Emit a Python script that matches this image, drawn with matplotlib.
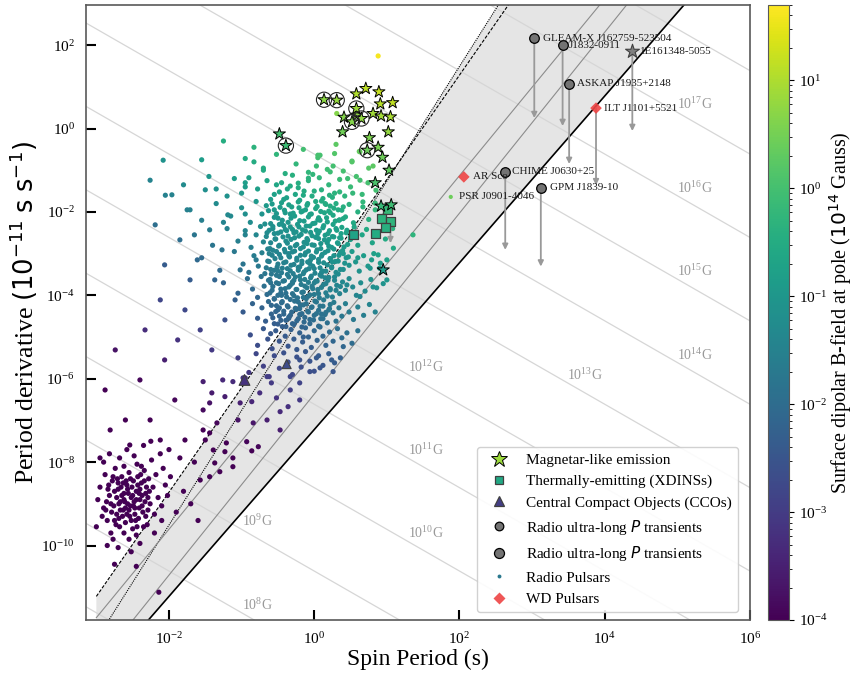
import numpy as np
import matplotlib
matplotlib.use("Agg")
import matplotlib.pyplot as plt
from matplotlib.colors import LogNorm
from matplotlib.cm import ScalarMappable
from matplotlib.lines import Line2D
from matplotlib.ticker import FixedLocator, NullLocator

plt.rcParams["font.family"] = "serif"
plt.rcParams["font.serif"] = ["Times New Roman", "Liberation Serif", "DejaVu Serif"]
plt.rcParams["mathtext.fontset"] = "dejavusans"

# all positions as (log10 P [s], log10 Pdot [1e-11 s/s])
PSR_NORMAL = [
    (-0.83, -0.45), (-0.52, -0.62), (0.30, -0.38), (0.05, -0.70), (-0.25, -0.85), (0.52, -0.78), (0.62, -0.55),
    (-0.70, -0.95), (0.18, -0.98), (-0.08, -1.05), (0.40, -1.02), (-0.40, -1.08), (0.75, -0.95), (-0.95, -0.72),
    (0.28, -0.60), (-0.15, -0.50), (-1.25, -0.30), (-1.55, -0.75), (-1.10, -1.20), (-1.80, -1.35), (-2.05, -1.60),
    (-1.35, -1.45), (-0.95, -1.30), (0.88, 1.74),
    (-1.45, -1.15), (-1.20, -1.62), (-0.90, -1.18), (-0.78, -1.45), (-0.65, -1.25), (-0.55, -1.58), (-0.45, -1.30),
    (-0.38, -1.66), (-0.30, -1.12), (-0.22, -1.42), (-0.15, -1.60), (-0.08, -1.25), (0.00, -1.50), (0.07, -1.18),
    (0.12, -1.68), (0.20, -1.35), (0.28, -1.55), (0.35, -1.22), (0.42, -1.62), (0.50, -1.40), (0.58, -1.15),
    (0.66, -1.58), (0.74, -1.30), (0.85, -1.48), (-0.60, -1.70), (-0.33, -1.38), (-0.02, -1.10), (0.25, -1.65),
    (-1.00, -1.55), (0.46, -1.20),
    (-1.75, -1.95), (-1.55, -2.20), (-1.35, -1.80), (-1.15, -2.10), (-1.00, -1.90), (-0.88, -2.25), (-0.80, -1.75),
    (-0.72, -2.05), (-0.66, -1.85), (-0.60, -2.28), (-0.55, -1.95), (-0.50, -2.15), (-0.45, -1.78), (-0.40, -2.02),
    (-0.36, -2.25), (-0.31, -1.88), (-0.27, -2.10), (-0.22, -1.76), (-0.18, -2.00), (-0.14, -2.22), (-0.10, -1.84),
    (-0.06, -2.06), (-0.02, -2.28), (0.02, -1.92), (0.06, -2.14), (0.10, -1.74), (0.14, -2.02), (0.18, -2.24),
    (0.22, -1.86), (0.26, -2.08), (0.30, -1.80), (0.34, -2.20), (0.38, -1.96), (0.43, -2.12), (0.48, -1.82),
    (0.54, -2.26), (0.60, -2.00), (0.67, -1.88), (0.75, -2.18), (0.84, -1.95), (0.95, -2.10), (-0.95, -2.05),
    (-1.25, -2.25), (-0.48, -2.30), (-0.12, -1.95), (0.20, -1.98), (0.08, -2.20), (-0.33, -2.05),
    (-1.65, -2.55), (-1.40, -2.80), (-1.20, -2.40), (-1.05, -2.70), (-0.95, -2.45), (-0.87, -2.85), (-0.80, -2.55),
    (-0.74, -2.35), (-0.70, -2.72), (-0.65, -2.50), (-0.61, -2.88), (-0.57, -2.40), (-0.53, -2.65), (-0.49, -2.82),
    (-0.46, -2.48), (-0.42, -2.33), (-0.39, -2.70), (-0.36, -2.58), (-0.33, -2.86), (-0.30, -2.42), (-0.27, -2.62),
    (-0.24, -2.78), (-0.21, -2.36), (-0.18, -2.54), (-0.15, -2.84), (-0.12, -2.46), (-0.09, -2.68), (-0.06, -2.34),
    (-0.03, -2.57), (0.00, -2.80), (0.03, -2.44), (0.06, -2.64), (0.09, -2.88), (0.12, -2.38), (0.15, -2.56),
    (0.18, -2.74), (0.21, -2.45), (0.24, -2.85), (0.27, -2.60), (0.30, -2.40), (0.33, -2.76), (0.37, -2.52),
    (0.41, -2.84), (0.45, -2.44), (0.50, -2.66), (0.55, -2.36), (0.60, -2.80), (0.66, -2.55), (0.72, -2.42),
    (0.80, -2.74), (0.88, -2.50), (0.98, -2.65), (1.08, -2.40), (-0.55, -2.52), (-0.25, -2.48), (0.05, -2.52),
    (0.35, -2.62), (-0.10, -2.76), (0.20, -2.66), (-0.40, -2.42),
    (-1.55, -3.10), (-1.30, -3.40), (-1.10, -2.95), (-0.98, -3.25), (-0.90, -3.45), (-0.83, -3.05), (-0.77, -3.30),
    (-0.72, -2.98), (-0.68, -3.48), (-0.64, -3.18), (-0.60, -3.38), (-0.57, -2.92), (-0.54, -3.12), (-0.51, -3.32),
    (-0.48, -3.02), (-0.45, -3.46), (-0.42, -3.22), (-0.40, -2.96), (-0.37, -3.36), (-0.34, -3.08), (-0.32, -3.28),
    (-0.29, -3.48), (-0.27, -2.94), (-0.24, -3.16), (-0.22, -3.40), (-0.19, -3.04), (-0.17, -3.24), (-0.14, -3.44),
    (-0.12, -2.98), (-0.09, -3.20), (-0.07, -3.36), (-0.04, -3.06), (-0.02, -3.30), (0.01, -3.47), (0.03, -2.96),
    (0.06, -3.14), (0.08, -3.34), (0.11, -3.02), (0.13, -3.22), (0.16, -3.42), (0.19, -2.93), (0.22, -3.12),
    (0.24, -3.32), (0.27, -3.05), (0.30, -3.45), (0.33, -3.18), (0.36, -2.97), (0.40, -3.38), (0.44, -3.10),
    (0.48, -3.28), (0.52, -2.95), (0.57, -3.20), (0.62, -3.42), (0.68, -3.05), (0.74, -3.30), (0.82, -3.00),
    (0.90, -3.35), (1.00, -3.15), (-0.62, -3.00), (-0.35, -3.00), (-0.05, -3.15), (0.25, -3.20), (-0.20, -3.32),
    (0.10, -3.45), (-0.50, -3.42), (0.40, -3.00), (-0.80, -3.15), (0.60, -3.10),
    (-1.25, -3.70), (-1.05, -3.95), (-0.92, -3.60), (-0.85, -3.85), (-0.78, -4.05), (-0.73, -3.55), (-0.69, -3.78),
    (-0.65, -3.98), (-0.61, -3.62), (-0.58, -3.88), (-0.55, -4.08), (-0.52, -3.52), (-0.49, -3.72), (-0.46, -3.94),
    (-0.43, -3.66), (-0.40, -3.84), (-0.38, -4.04), (-0.35, -3.56), (-0.33, -3.76), (-0.30, -3.96), (-0.28, -3.64),
    (-0.25, -3.86), (-0.23, -4.06), (-0.20, -3.54), (-0.18, -3.74), (-0.15, -3.92), (-0.13, -3.62), (-0.10, -3.82),
    (-0.08, -4.02), (-0.05, -3.58), (-0.03, -3.78), (0.00, -3.98), (0.02, -3.66), (0.05, -3.86), (0.07, -4.06),
    (0.10, -3.54), (0.13, -3.74), (0.16, -3.94), (0.19, -3.64), (0.22, -3.84), (0.25, -4.04), (0.28, -3.56),
    (0.31, -3.76), (0.35, -3.96), (0.39, -3.68), (0.43, -3.88), (0.48, -3.60), (0.53, -3.80), (0.58, -4.00),
    (0.64, -3.70), (0.70, -3.90), (0.78, -3.62), (0.86, -3.82), (0.95, -3.72), (-0.60, -3.70), (-0.30, -3.68),
    (0.00, -3.70), (0.30, -3.88), (-0.15, -4.05), (0.15, -3.58), (-0.45, -4.00), (0.45, -3.75),
    (-0.98, -4.40), (-0.85, -4.20), (-0.78, -4.55), (-0.72, -4.30), (-0.67, -4.62), (-0.63, -4.15), (-0.59, -4.45),
    (-0.55, -4.68), (-0.52, -4.25), (-0.48, -4.50), (-0.45, -4.18), (-0.42, -4.38), (-0.39, -4.60), (-0.36, -4.28),
    (-0.33, -4.48), (-0.30, -4.68), (-0.27, -4.14), (-0.25, -4.34), (-0.22, -4.56), (-0.19, -4.24), (-0.17, -4.44),
    (-0.14, -4.64), (-0.11, -4.20), (-0.08, -4.40), (-0.06, -4.58), (-0.03, -4.28), (0.00, -4.48), (0.03, -4.16),
    (0.06, -4.36), (0.09, -4.56), (0.12, -4.26), (0.15, -4.46), (0.18, -4.66), (0.22, -4.22), (0.26, -4.42),
    (0.30, -4.62), (0.34, -4.30), (0.38, -4.50), (0.43, -4.20), (0.48, -4.40), (0.54, -4.58), (0.60, -4.28),
    (0.68, -4.48), (0.76, -4.22), (0.84, -4.40), (-0.50, -4.35), (-0.20, -4.32), (0.10, -4.45), (-0.35, -4.52),
    (0.20, -4.35),
    (-0.88, -4.95), (-0.78, -5.20), (-0.70, -4.80), (-0.64, -5.05), (-0.58, -5.28), (-0.53, -4.85), (-0.48, -5.10),
    (-0.44, -4.75), (-0.40, -4.98), (-0.36, -5.22), (-0.32, -4.82), (-0.28, -5.05), (-0.24, -5.30), (-0.20, -4.90),
    (-0.16, -5.12), (-0.12, -4.78), (-0.08, -5.00), (-0.04, -5.25), (0.00, -4.85), (0.04, -5.08), (0.08, -4.76),
    (0.12, -4.98), (0.16, -5.20), (0.21, -4.88), (0.26, -5.10), (0.32, -4.80), (0.38, -5.02), (0.45, -4.90),
    (0.52, -5.15), (0.60, -4.85), (-0.60, -4.92), (-0.15, -5.00),
    (-1.05, -5.50), (-0.90, -5.85), (-0.80, -5.40), (-0.70, -5.70), (-0.62, -5.95), (-0.55, -5.45), (-0.48, -5.75),
    (-0.42, -5.38), (-0.36, -5.60), (-0.30, -5.90), (-0.24, -5.48), (-0.18, -5.72), (-0.12, -5.35), (-0.06, -5.58),
    (0.00, -5.82), (0.06, -5.45), (0.12, -5.68), (0.20, -5.40), (0.28, -5.62), (0.36, -5.50), (-0.95, -5.98),
    (0.31, 0.36), (0.63, -0.56), (0.81, -0.90), (0.05, -0.64), (0.03, -0.90), (0.26, -0.90), (0.52, -0.80),
    (-0.83, -0.80), (-0.70, -1.00), (-0.08, -1.19), (-0.95, -1.40), (-0.22, -1.31), (-0.52, -1.35), (0.08, -0.64),
    (0.22, -1.04), (0.63, -1.24), (0.53, -1.55), (0.35, -1.52), (0.84, -1.79), (0.67, -1.76), (1.36, -2.55),
    (1.09, -2.87), (0.88, -3.03), (0.79, -3.15), (0.91, -3.23), (0.77, -3.35), (1.00, -3.63), (0.81, -3.80),
    (0.63, -4.03), (0.35, -2.19), (0.40, -1.88),
    (-2.19, -2.31), (-1.96, -1.59), (-1.85, -2.67), (-1.71, -1.95), (-1.61, -3.15), (-1.50, -1.47), (-1.44, -2.43),
    (-1.37, -3.63), (-1.27, -2.91), (-1.19, -2.07), (-1.09, -4.11), (-1.02, -3.39), (-0.95, -2.55), (-2.12, -4.11),
    (-1.78, -4.35), (-1.57, -4.83), (-1.71, -3.63), (-2.06, -3.27), (-1.88, -5.07), (-1.41, -5.31), (-1.23, -4.59),
    (-2.26, -1.24), (-2.08, -0.76),
]

# the dense core of the normal pulsar population
PSR_CORE = [
    (-0.48, -1.52), (-0.37, -1.45), (-0.26, -1.58), (-0.14, -1.50), (-0.03, -1.62), (0.10, -1.47), (0.21, -1.60),
    (-0.42, -1.70), (-0.20, -1.72), (0.02, -1.75), (0.15, -1.80),
    (-0.58, -1.81), (-0.47, -1.89), (-0.35, -1.83), (-0.21, -1.90), (-0.09, -1.80), (0.04, -1.87), (0.16, -1.82),
    (0.27, -1.91), (-0.63, -1.97), (-0.52, -2.04), (-0.41, -1.96), (-0.29, -2.03), (-0.16, -1.98), (-0.04, -2.05),
    (0.09, -1.99), (0.22, -2.02), (0.33, -1.95), (-0.55, -2.13), (-0.44, -2.20), (-0.32, -2.15), (-0.20, -2.21),
    (-0.08, -2.12), (0.05, -2.19), (0.17, -2.14), (0.29, -2.22), (0.40, -2.16), (-0.68, -2.29), (-0.57, -2.35),
    (-0.45, -2.28), (-0.33, -2.36), (-0.23, -2.30), (-0.11, -2.34), (0.01, -2.27), (0.13, -2.33), (0.26, -2.30),
    (0.38, -2.37), (-0.62, -2.44), (-0.50, -2.51), (-0.38, -2.45), (-0.28, -2.50), (-0.16, -2.43), (-0.05, -2.49),
    (0.07, -2.46), (0.19, -2.52), (0.31, -2.44), (0.44, -2.50), (-0.66, -2.59), (-0.54, -2.65), (-0.43, -2.60),
    (-0.32, -2.66), (-0.21, -2.58), (-0.10, -2.64), (0.02, -2.61), (0.14, -2.67), (0.25, -2.59), (0.37, -2.63),
    (0.50, -2.60), (-0.60, -2.74), (-0.48, -2.80), (-0.37, -2.75), (-0.26, -2.81), (-0.14, -2.73), (-0.03, -2.79),
    (0.09, -2.76), (0.20, -2.82), (0.32, -2.74), (0.46, -2.78), (-0.64, -2.89), (-0.52, -2.95), (-0.41, -2.90),
    (-0.30, -2.96), (-0.19, -2.88), (-0.08, -2.94), (0.04, -2.91), (0.15, -2.97), (0.27, -2.89), (0.39, -2.93),
    (-0.58, -3.04), (-0.46, -3.10), (-0.35, -3.05), (-0.24, -3.11), (-0.13, -3.03), (-0.01, -3.09), (0.10, -3.06),
    (0.22, -3.12), (0.34, -3.04), (0.47, -3.08), (-0.62, -3.19), (-0.50, -3.25), (-0.39, -3.20), (-0.28, -3.26),
    (-0.17, -3.18), (-0.06, -3.24), (0.06, -3.21), (0.18, -3.27), (0.29, -3.19), (0.42, -3.23), (-0.66, -3.34),
    (-0.55, -3.40), (-0.44, -3.35), (-0.33, -3.41), (-0.22, -3.33), (-0.11, -3.39), (0.00, -3.36), (0.12, -3.42),
    (0.24, -3.34), (0.36, -3.38), (-0.59, -3.49), (-0.48, -3.55), (-0.37, -3.50), (-0.26, -3.56), (-0.15, -3.48),
    (-0.04, -3.54), (0.08, -3.51), (0.20, -3.57), (0.33, -3.49), (-0.63, -3.64), (-0.52, -3.70), (-0.41, -3.65),
    (-0.30, -3.71), (-0.19, -3.63), (-0.08, -3.69), (0.04, -3.66), (0.16, -3.72), (0.28, -3.64), (-0.57, -3.79),
    (-0.46, -3.85), (-0.35, -3.80), (-0.24, -3.86), (-0.13, -3.78), (-0.02, -3.84), (0.10, -3.81), (0.22, -3.87),
    (0.36, -3.79), (-0.61, -3.94), (-0.50, -4.00), (-0.39, -3.95), (-0.28, -4.01), (-0.17, -3.93), (-0.06, -3.99),
    (0.06, -3.96), (0.18, -4.02), (-0.55, -4.09), (-0.44, -4.15), (-0.33, -4.10), (-0.22, -4.16), (-0.11, -4.08),
    (0.01, -4.14), (0.13, -4.11), (0.27, -4.17), (-0.59, -4.24), (-0.48, -4.30), (-0.37, -4.25), (-0.26, -4.31),
    (-0.15, -4.23), (-0.04, -4.29), (0.08, -4.26), (0.21, -4.32), (-0.53, -4.39), (-0.42, -4.45), (-0.31, -4.40),
    (-0.20, -4.46), (-0.09, -4.38), (0.03, -4.44), (0.16, -4.41), (-0.57, -4.54), (-0.46, -4.60), (-0.35, -4.55),
    (-0.24, -4.61), (-0.13, -4.53), (-0.01, -4.59), (0.12, -4.56), (-0.50, -4.69), (-0.39, -4.75), (-0.28, -4.70),
    (-0.17, -4.76), (-0.06, -4.68), (0.06, -4.74),
]

PSR_RECYCLED = [
    (-0.06, -5.83), (0.08, -5.74), (0.26, -5.83), (0.40, -5.23), (0.24, -5.55), (0.03, -5.50), (-0.20, -5.55),
    (-0.33, -5.95), (-0.20, -6.10), (-0.33, -6.27), (-0.59, -6.10), (-0.65, -5.95), (-0.52, -6.46), (-0.75, -6.34),
    (-0.86, -6.55), (-1.02, -6.58), (-0.98, -5.98), (-1.12, -6.07), (-1.26, -6.03), (-1.53, -6.07), (-1.23, -6.43),
    (-1.41, -6.34), (-1.44, -6.58), (-1.53, -6.75), (-0.20, -6.51), (-0.36, -6.67), (-0.47, -6.79), (-0.65, -6.99),
    (-0.84, -7.06), (-1.05, -6.99), (-1.34, -7.06), (-0.47, -7.23), (-0.93, -7.51), (-0.77, -7.63), (-0.86, -7.73),
    (-1.12, -7.90), (-1.23, -7.75), (-1.39, -7.71), (-1.50, -7.47), (-1.53, -7.23), (-1.44, -7.30), (-1.21, -7.54),
    (-1.37, -8.02), (-1.12, -8.11), (-1.30, -8.23), (-1.44, -8.35), (-1.57, -8.43),
    (-2.88, -6.27), (-2.74, -5.31), (-2.60, -6.99), (-2.40, -6.03), (-2.26, -6.99), (-2.06, -5.55), (-1.92, -6.51),
    (-1.78, -7.47), (-2.54, -7.59), (-2.12, -7.47), (-2.81, -7.23), (-2.33, -4.83),
    (-2.95, -8.60), (-2.90, -9.10), (-2.88, -8.30), (-2.85, -9.40), (-2.82, -8.80), (-2.80, -9.70), (-2.78, -8.45),
    (-2.76, -9.05), (-2.74, -8.15), (-2.72, -9.25), (-2.70, -8.65), (-2.68, -9.55), (-2.67, -8.95), (-2.65, -8.35),
    (-2.63, -9.15), (-2.62, -8.75), (-2.60, -9.45), (-2.58, -8.55), (-2.57, -9.00), (-2.55, -8.25), (-2.54, -9.30),
    (-2.52, -8.85), (-2.50, -9.60), (-2.49, -8.45), (-2.47, -9.10), (-2.45, -8.70), (-2.44, -8.05), (-2.42, -9.35),
    (-2.40, -8.90), (-2.38, -8.50), (-2.36, -9.20), (-2.34, -8.20), (-2.32, -8.75), (-2.30, -9.50), (-2.28, -8.40),
    (-2.26, -9.00), (-2.24, -7.95), (-2.22, -8.60), (-2.20, -9.25), (-2.18, -8.30), (-2.15, -8.85), (-2.12, -7.80),
    (-2.10, -9.05), (-2.08, -8.15), (-2.05, -8.55),
    (-2.86, -8.95), (-2.83, -8.55), (-2.79, -9.20), (-2.75, -8.70), (-2.73, -9.50), (-2.71, -8.40), (-2.69, -9.00),
    (-2.66, -8.60), (-2.64, -9.30), (-2.61, -8.95), (-2.59, -8.45), (-2.56, -8.75), (-2.53, -9.05), (-2.51, -8.60),
    (-2.48, -8.95), (-2.46, -9.40), (-2.43, -8.55), (-2.41, -9.10), (-2.39, -8.30), (-2.37, -8.80), (-2.35, -9.55),
    (-2.33, -8.95), (-2.31, -8.60), (-2.29, -9.15), (-2.27, -8.70), (-2.62, -9.70), (-2.77, -9.85), (-2.55, -9.85),
    (-2.45, -9.75), (-2.92, -9.30), (-2.98, -8.90), (-3.00, -9.55), (-2.90, -8.00), (-2.82, -7.80), (-2.68, -7.90),
    (-2.58, -7.70), (-2.48, -7.85), (-2.35, -7.60), (-2.25, -7.50), (-2.70, -10.05), (-2.52, -10.15), (-2.40, -9.95),
    (-2.85, -10.00), (-2.20, -9.70), (-2.10, -9.40), (-2.02, -8.80), (-1.98, -8.35), (-2.00, -7.70), (-2.95, -7.90),
    (-2.62, -8.10), (-2.38, -8.10),
    (-2.84, -8.65), (-2.80, -9.00), (-2.77, -8.35), (-2.72, -8.85), (-2.69, -9.35), (-2.65, -8.80), (-2.63, -8.50),
    (-2.60, -9.10), (-2.57, -8.65), (-2.55, -9.15), (-2.53, -8.40), (-2.50, -8.80), (-2.47, -9.25), (-2.45, -8.90),
    (-2.43, -8.35), (-2.40, -8.65), (-2.37, -9.05), (-2.34, -8.45), (-2.32, -9.30), (-2.29, -8.85), (-2.75, -9.40),
    (-2.67, -9.15), (-2.58, -9.25), (-2.49, -9.05), (-2.41, -8.75), (-2.62, -8.90), (-2.52, -9.40), (-2.70, -8.50),
    (-2.44, -9.55), (-2.87, -9.15),
    (-2.14, -11.12), (-2.75, -10.45), (-2.45, -10.50), (-1.90, -9.20), (-1.80, -8.70), (-1.70, -9.00), (-1.60, -9.40),
    (-1.85, -7.90), (-1.65, -8.00),
]

PSR_J0901 = (1.88, -1.64)

MAGNETARS = [
    (-0.48, -0.13), (0.58, 0.83), (0.71, 0.96), (0.89, 0.88), (1.08, 0.62), (0.91, 0.59), (0.41, 0.27),
    (0.58, 0.32), (0.81, 0.36), (0.92, 0.30), (1.05, 0.28), (0.39, -0.08), (1.02, -0.08), (0.76, -0.22),
    (0.88, -0.45), (0.94, -0.69), (1.03, -1.00), (0.84, -1.30), (0.92, -1.86), (1.06, -1.83), (0.95, -3.39),
]
MAGNETARS_RADIO = [(-0.39, -0.41), (0.135, 0.69), (0.31, 0.68), (0.58, 0.48), (0.52, 0.16), (0.65, 0.24), (0.73, -0.52)]

XDINS = [(0.54, -2.54), (1.01, -1.95), (0.92, -2.15), (1.05, -2.24), (0.975, -2.38), (0.85, -2.51)]
XDINS_LIMIT = (1.05, -2.24, -2.75)

CCOS = [(-0.96, -6.03), (-0.38, -5.65)]
CCO_SIZES = [60, 42]

ULP_NAMES = ["GLEAM-X J162759-523504", "J1832-0911", "ASKAP J1935+2148", "CHIME J0630+25", "GPM J1839-10"]
ULP_LOGP = [3.03, 3.42, 3.51, 2.63, 3.12]
ULP_LOGPDOT = [2.16, 2.00, 1.07, -1.04, -1.43]
ULP_LIMIT = [0.25, 0.06, -0.85, -2.91, -3.31]

MAG_1E = (4.38, 1.86, -0.06)

WD_NAMES = ["AR Sco", "ILT J1101+5521"]
WD_LOGP = [2.06, 3.88]
WD_LOGPDOT = [-1.16, 0.49]
WD_LIMIT = [None, -1.36]

LABELS = [
    ("GLEAM-X J162759-523504", 3.15, 2.17), ("J1832-0911", 3.50, 1.98), ("1E161348-5055", 4.49, 1.84),
    ("ASKAP J1935+2148", 3.62, 1.08), ("ILT J1101+5521", 3.99, 0.48), ("AR Sco", 2.18, -1.16),
    ("CHIME J0630+25", 2.73, -1.04), ("GPM J1839-10", 3.24, -1.41), ("PSR J0901-4046", 2.00, -1.62),
]

B_LINES = list(range(7, 19))
B_LABEL_LOGP = {8: -1.0, 9: -1.0, 10: 1.29, 11: 1.29, 12: 1.29, 13: 3.48, 14: 5.0, 15: 5.0, 16: 5.0, 17: 5.0}


def bfield14(logp, logpdot):
    """ dipolar field at the pole in 1e14 G """
    p = 10 ** np.asarray(logp, dtype=float)
    pdot = 10 ** np.asarray(logpdot, dtype=float) * 1e-11
    return 6.4e5 * np.sqrt(p * pdot)


def b_line(b_gauss, p):
    return (b_gauss / 6.4e19) ** 2 / p * 1e11


def split(points):
    arr = np.array(points, dtype=float)
    return 10 ** arr[:, 0], 10 ** arr[:, 1], bfield14(arr[:, 0], arr[:, 1])


cmap = plt.get_cmap("viridis")
norm = LogNorm(vmin=1e-4, vmax=50)

fig = plt.figure(figsize=(8.58, 6.76), dpi=100)
ax = fig.add_axes([0.1002, 0.0828, 0.7739, 0.9098])
cax = fig.add_axes([0.8948, 0.0828, 0.0248, 0.9098])

ax.set_xscale("log")
ax.set_yscale("log")
ax.set_xlim(10 ** -3.143, 1e6)
ax.set_ylim(10 ** -11.787, 10 ** 2.962)

# constant B lines
p_wide = np.logspace(-4, 7, 200)
for e in B_LINES:
    ax.plot(p_wide, b_line(10.0 ** e, p_wide), color="0.84", lw=0.9, zorder=1.5)
    if e in B_LABEL_LOGP:
        px = 10 ** B_LABEL_LOGP[e]
        ax.text(px, b_line(10.0 ** e, px), r"$\mathdefault{10^{%d}}$G" % e, color="0.6",
                fontsize=10, ha="left", va="bottom", zorder=1.6)

# death valley
p_grid = np.logspace(-3, 6, 400)
lp = np.log10(p_grid)
line_a = 10 ** (2.5 * lp - 3.72)
line_b = 10 ** (2.75 * lp - 4.01)
line_c = 10 ** (2.12 * lp - 5.37)
line_d = 10 ** (2.17 * lp - 6.37)
line_low = 10 ** (2.0 * lp - 7.22)
ax.fill_between(p_grid, line_low, np.maximum(line_a, line_b), color="#e5e5e5", lw=0, zorder=1)
ax.plot(p_grid, line_a, color="k", lw=0.8, ls=(0, (3, 1.5)), zorder=2)
ax.plot(p_grid, line_b, color="k", lw=0.8, ls=(0, (1, 1)), zorder=2)
ax.plot(p_grid, line_c, color="0.55", lw=0.8, zorder=2)
ax.plot(p_grid, line_d, color="0.55", lw=0.8, zorder=2)
ax.plot(p_grid, line_low, color="k", lw=1.2, zorder=2)

# radio pulsars
for pts in (PSR_RECYCLED, PSR_NORMAL, PSR_CORE):
    x, y, b = split(pts)
    ax.scatter(x, y, c=b, cmap=cmap, norm=norm, s=14, edgecolors="none", zorder=3)
ax.scatter([10 ** PSR_J0901[0]], [10 ** PSR_J0901[1]], c=[bfield14(*PSR_J0901)], cmap=cmap, norm=norm,
           s=9, edgecolors="none", zorder=3)

arrow_kw = dict(arrowstyle="-|>", color="0.6", lw=1.3, mutation_scale=8, shrinkA=0, shrinkB=0)


def down_arrow(logp, logpdot, logend):
    ax.annotate("", xy=(10 ** logp, 10 ** logend), xytext=(10 ** logp, 10 ** logpdot),
                arrowprops=arrow_kw, zorder=4)


# CCOs
x, y, b = split(CCOS)
ax.scatter(x, y, c=b, cmap=cmap, norm=norm, s=CCO_SIZES, marker="^", edgecolors="0.25", linewidths=0.8, zorder=5)

# XDINSs
down_arrow(*XDINS_LIMIT)
x, y, b = split(XDINS)
ax.scatter(x, y, c=b, cmap=cmap, norm=norm, s=42, marker="s", edgecolors="0.25", linewidths=0.9, zorder=5)

# magnetars
x, y, b = split(MAGNETARS + MAGNETARS_RADIO)
ax.scatter(x, y, c=b, cmap=cmap, norm=norm, s=85, marker="*", edgecolors="k", linewidths=0.7, zorder=6)
x, y, b = split(MAGNETARS_RADIO)
ax.scatter(x, y, facecolors="none", edgecolors="0.15", s=120, linewidths=0.8, zorder=6)
down_arrow(*MAG_1E)
ax.scatter([10 ** MAG_1E[0]], [10 ** MAG_1E[1]], marker="*", s=110, facecolors="0.5", edgecolors="0.25",
           linewidths=0.8, zorder=6)

# ultra-long period transients
for lpv, lpd, lim in zip(ULP_LOGP, ULP_LOGPDOT, ULP_LIMIT):
    down_arrow(lpv, lpd, lim)
ax.scatter(10 ** np.array(ULP_LOGP), 10 ** np.array(ULP_LOGPDOT), s=48, facecolors="0.45",
           edgecolors="k", linewidths=0.9, zorder=6)

# WD pulsars
for lpv, lpd, lim in zip(WD_LOGP, WD_LOGPDOT, WD_LIMIT):
    if lim is not None:
        down_arrow(lpv, lpd, lim)
ax.scatter(10 ** np.array(WD_LOGP), 10 ** np.array(WD_LOGPDOT), s=35, marker="D", color="#ee4444",
           alpha=0.9, edgecolors="none", zorder=6)

for name, lx, ly in LABELS:
    ax.text(10 ** lx, 10 ** ly, name, fontsize=8, ha="left", va="center", color="0.1", zorder=7)

# axes cosmetics
ax.xaxis.set_major_locator(FixedLocator([1e-2, 1e0, 1e2, 1e4, 1e6]))
ax.yaxis.set_major_locator(FixedLocator([1e-10, 1e-8, 1e-6, 1e-4, 1e-2, 1e0, 1e2]))
ax.xaxis.set_minor_locator(NullLocator())
ax.yaxis.set_minor_locator(NullLocator())
ax.tick_params(which="major", direction="in", length=7, width=1.5, labelsize=11, pad=8)
for sp in ax.spines.values():
    sp.set_color("0.35")
    sp.set_linewidth(1.2)
ax.set_xlabel("Spin Period (s)", fontsize=17, labelpad=1)
ax.set_ylabel(r"Period derivative $(10^{-11}\;\mathrm{s}\;\mathrm{s}^{-1})$", fontsize=18.5, labelpad=1)

handles = [
    Line2D([], [], ls="none", marker="*", ms=12, mfc=cmap(0.85), mec="k", mew=0.7, label="Magnetar-like emission"),
    Line2D([], [], ls="none", marker="s", ms=6, mfc=cmap(0.6), mec="0.25", mew=0.9, label="Thermally-emitting (XDINSs)"),
    Line2D([], [], ls="none", marker="^", ms=6.5, mfc=cmap(0.18), mec="0.25", mew=0.9,
           label="Central Compact Objects (CCOs)"),
    Line2D([], [], ls="none", marker="o", ms=6.2, mfc="0.45", mec="k", mew=0.9,
           label=r"Radio ultra-long $P$ transients"),
    Line2D([], [], ls="none", marker="o", ms=7.2, mfc="0.45", mec="k", mew=0.9,
           label=r"Radio ultra-long $P$ transients"),
    Line2D([], [], ls="none", marker="o", ms=2.8, mfc=cmap(0.4), mec="none", label="Radio Pulsars"),
    Line2D([], [], ls="none", marker="D", ms=6.5, mfc="#ee4444", mec="none", alpha=0.9, label="WD Pulsars"),
]
leg = ax.legend(handles=handles, loc="lower right", bbox_to_anchor=(0.982, 0.013), borderaxespad=0,
                fontsize=11, framealpha=0.9, edgecolor="0.8")
leg.set_zorder(8)

# colorbar
cb = fig.colorbar(ScalarMappable(norm=norm, cmap=cmap), cax=cax)
cb.ax.tick_params(labelsize=11)
cb.outline.set_edgecolor("0.35")
cb.set_label(r"Surface dipolar B-field at pole ($\mathrm{10^{14}}$ Gauss)", fontsize=14.5, labelpad=0)

fig.savefig("out.png", dpi=100)
